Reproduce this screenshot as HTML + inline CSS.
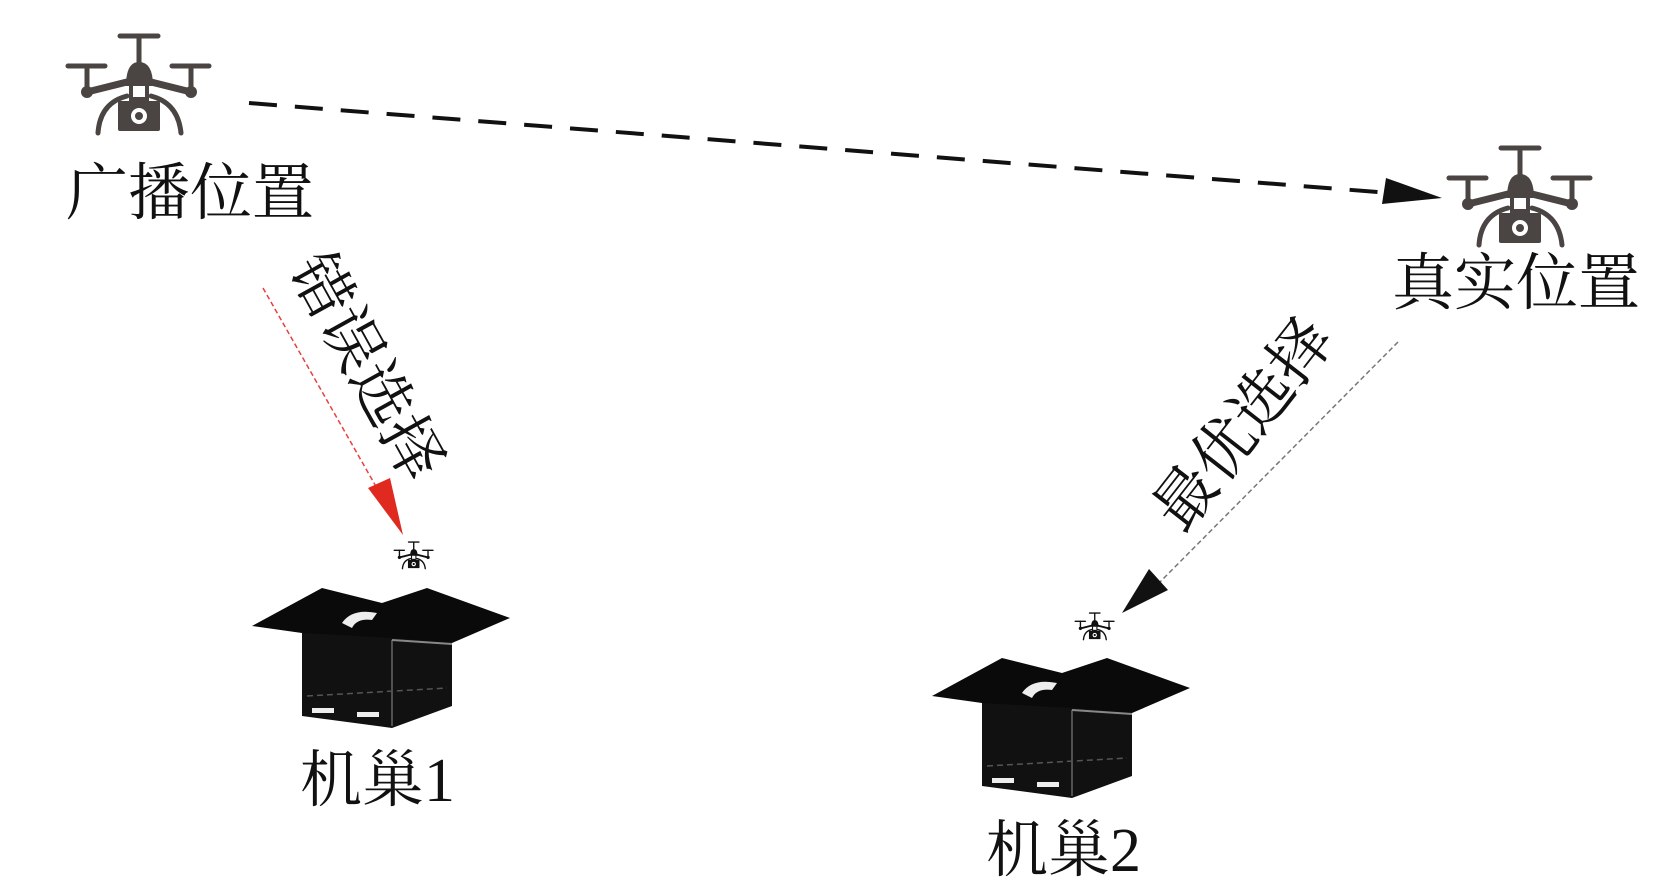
<!DOCTYPE html>
<html><head><meta charset="utf-8"><style>
body{margin:0;background:#fff;width:1654px;height:896px;overflow:hidden;position:relative}
.t{position:absolute;font-family:"Liberation Serif","Noto Serif CJK SC",serif;font-size:62px;color:#111;white-space:nowrap;line-height:1}
</style></head><body>
<svg width="1654" height="896" style="position:absolute;left:0;top:0">
<defs>
<symbol id="dr" viewBox="60 30 160 110" overflow="visible">
<g stroke-linecap="round">
<line x1="120" y1="36" x2="158" y2="36" stroke-width="5"/>
<line x1="139" y1="36" x2="139" y2="66" stroke-width="5"/>
<line x1="68" y1="66" x2="105" y2="66" stroke-width="5"/>
<line x1="172" y1="66" x2="209" y2="66" stroke-width="5"/>
<line x1="87" y1="66" x2="87" y2="92" stroke-width="5"/>
<line x1="191" y1="66" x2="191" y2="92" stroke-width="5"/>
<line x1="87" y1="92" x2="135" y2="80" stroke-width="7"/>
<line x1="191" y1="92" x2="143" y2="80" stroke-width="7"/>
<path d="M127 96 Q100 103 98 133" fill="none" stroke-width="5"/>
<path d="M151 96 Q178 103 181 133" fill="none" stroke-width="5"/>
<line x1="131" y1="85" x2="131" y2="103" stroke-width="4"/>
<line x1="147" y1="85" x2="147" y2="103" stroke-width="4"/>
</g>
<circle cx="87" cy="92" r="6" stroke="none"/>
<circle cx="191" cy="92" r="6" stroke="none"/>
<path d="M126 86 Q126 62 139 62 Q153 62 153 86 Z" stroke="none"/>
<rect x="118" y="101" width="42" height="30" rx="2" stroke="none"/>
<rect x="133" y="97" width="12" height="6" stroke="none"/>
<circle cx="139" cy="116" r="8" fill="#fff" stroke="none"/>
<circle cx="139" cy="116" r="4" stroke="none"/>
</symbol>
<g id="box">
<polygon points="50,35 200,42 200,118 140,140 50,128" fill="#111"/>
<polygon points="0,38 70,0 130,15 175,0 258,30 200,55 140,50 50,45" fill="#0a0a0a"/>
<line x1="140" y1="52" x2="140" y2="138" stroke="#666" stroke-width="1.5"/>
<path d="M90 35 Q100 20 125 25 L120 32 Q105 30 100 40 Z" fill="#eee"/>
<line x1="55" y1="108" x2="195" y2="100" stroke="#555" stroke-width="1.5" stroke-dasharray="6 4"/>
<rect x="60" y="120" width="22" height="5" fill="#eee"/>
<rect x="105" y="124" width="22" height="5" fill="#eee"/>
<line x1="200" y1="56" x2="140" y2="52" stroke="#888" stroke-width="2"/>
</g>
</defs>
<use href="#dr" x="60" y="30" width="160" height="110" fill="#4a4442" stroke="#4a4442"/>
<use href="#dr" x="1441" y="142" width="160" height="110" fill="#4a4442" stroke="#4a4442"/>
<use href="#dr" x="392" y="540" width="44" height="31" fill="#111" stroke="#111"/>
<use href="#dr" x="1073" y="611" width="44" height="31" fill="#111" stroke="#111"/>
<line x1="249" y1="103" x2="1390" y2="193" stroke="#111" stroke-width="4" stroke-dasharray="28 18"/>
<polygon points="1442,198 1382,204 1386,178" fill="#111"/>
<line x1="263" y1="288" x2="378" y2="490" stroke="#e84040" stroke-width="1.5" stroke-dasharray="5 3"/>
<polygon points="403,535 368,488 390,478" fill="#e02a20"/>
<line x1="1398" y1="342" x2="1160" y2="582" stroke="#777" stroke-width="1.5" stroke-dasharray="5 3"/>
<polygon points="1122,613 1149,569 1168,590" fill="#111"/>
<g transform="translate(252,588)"><use href="#box"/></g>
<g transform="translate(932,658)"><use href="#box"/></g>
</svg>
<div class="t" style="left:66px;top:163px">广播位置</div>
<div class="t" style="left:1392px;top:253px">真实位置</div>
<div class="t" style="left:300px;top:750px">机巢1</div>
<div class="t" style="left:986px;top:820px">机巢2</div>
<div class="t" style="left:242px;top:336px;transform:rotate(61deg);transform-origin:center">错误选择</div>
<div class="t" style="left:1120px;top:394px;transform:rotate(-52deg);transform-origin:center">最优选择</div>
</body></html>
